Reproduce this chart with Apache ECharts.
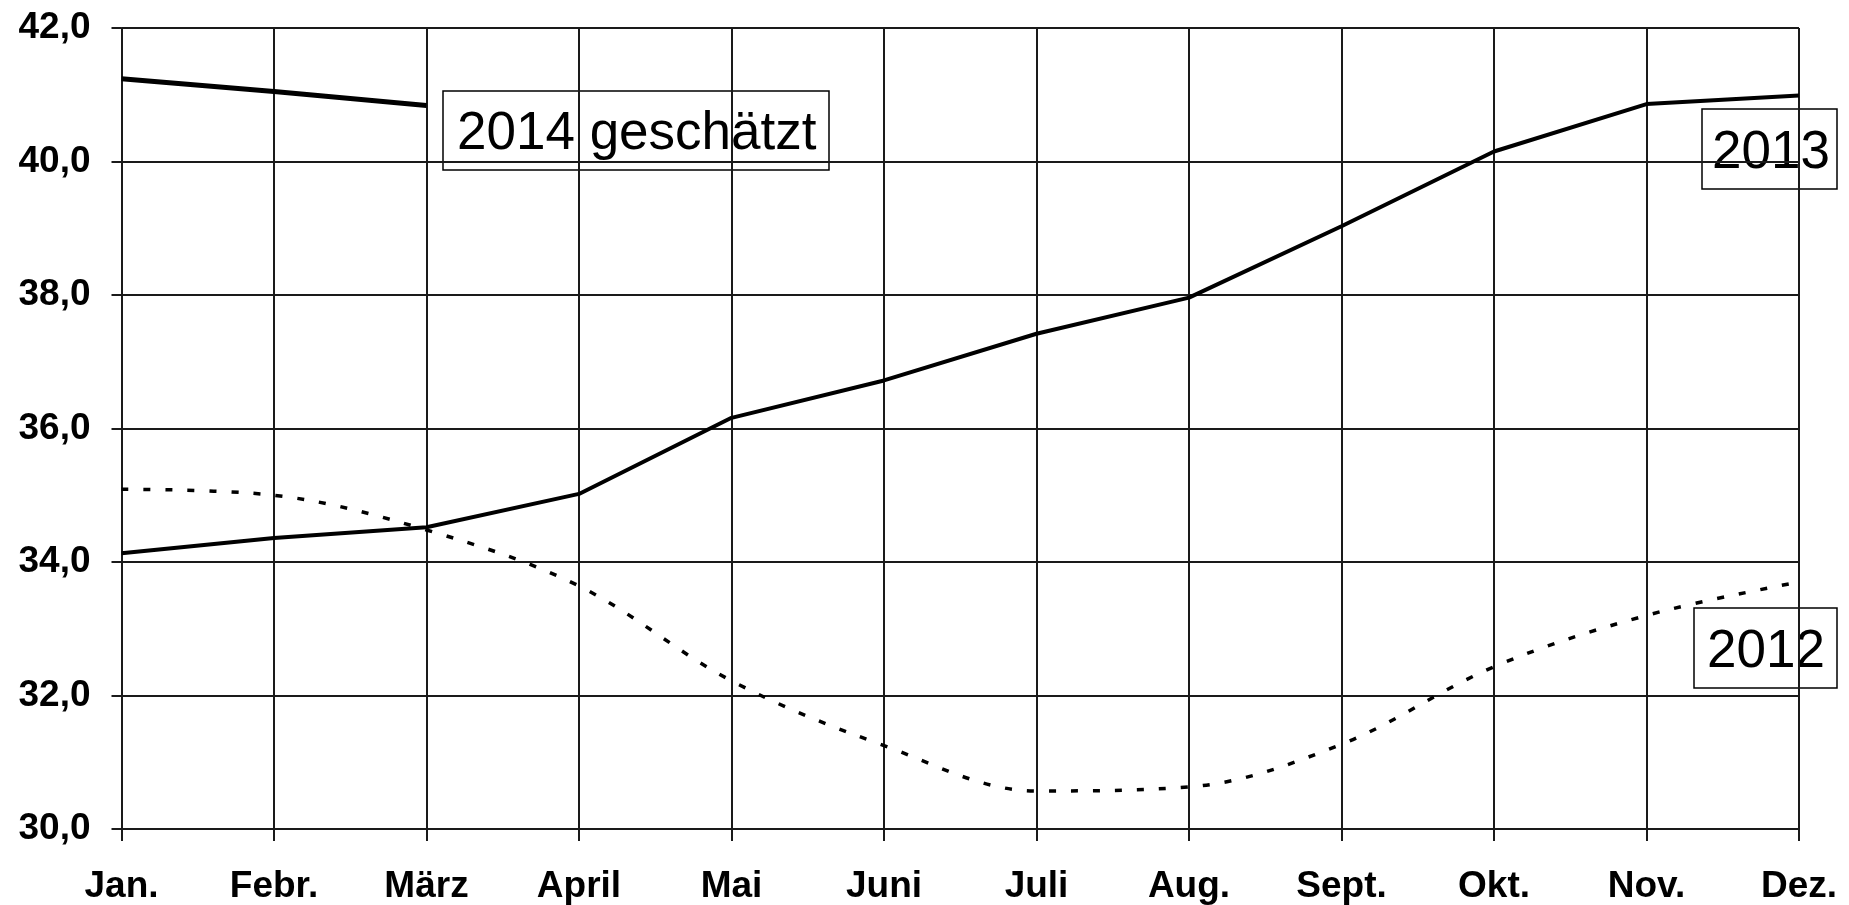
<!DOCTYPE html>
<html>
<head>
<meta charset="utf-8">
<script src="https://cdn.jsdelivr.net/npm/echarts@6/dist/echarts.min.js"></script>
<style>
  html, body { margin: 0; padding: 0; background: #fff; }
  #chart { width: 1849px; height: 905px; }
</style>
</head>
<body>
<div id="chart"></div>
<script>
const months = ['Jan.', 'Febr.', 'März', 'April', 'Mai', 'Juni', 'Juli', 'Aug.', 'Sept.', 'Okt.', 'Nov.', 'Dez.']
const values2012 = [35.09, 35.0, 34.48, 33.64, 32.22, 31.25, 30.57, 30.63, 31.27, 32.43, 33.2, 33.7]
const values2013 = [34.13, 34.36, 34.52, 35.02, 36.16, 36.72, 37.42, 37.96, 39.03, 40.15, 40.86, 40.99]
const values2014 = [41.24, 41.05, 40.84]
const boxLabels = ['2014 geschätzt', '2013', '2012']

const font = 'Arial, "Liberation Sans", sans-serif'

const chart = echarts.init(document.getElementById('chart'))

// Textkästen wie im Original (Position in Pixeln)
const box = (text, x, y, w, h, padLeft) => ({
  type: 'group',
  z: 100,
  children: [
    { type: 'rect', shape: { x: x, y: y, width: w, height: h },
      style: { fill: '#fff', stroke: '#000', lineWidth: 1.5 } },
    { type: 'text', x: x + padLeft, y: y + h / 2 + 4,
      style: { text: text, font: '53px ' + font, fill: '#000', verticalAlign: 'middle' } }
  ]
})

const gridLine = { color: '#1a1a1a', width: 2 }

const option = {
  animation: false,
  backgroundColor: '#fff',
  grid: { left: 121.5, right: 50, top: 28, bottom: 75 },
  xAxis: {
    type: 'category',
    data: months,
    boundaryGap: false,
    axisLine: { lineStyle: gridLine },
    axisTick: { show: true, length: 12, lineStyle: gridLine },
    axisLabel: { color: '#000', fontFamily: font, fontWeight: 'bold', fontSize: 37, margin: 39 },
    splitLine: { show: true, lineStyle: gridLine }
  },
  yAxis: {
    type: 'value',
    min: 30,
    max: 42,
    interval: 2,
    axisLine: { show: true, lineStyle: gridLine },
    axisTick: { show: true, length: 10, lineStyle: gridLine },
    axisLabel: {
      color: '#000', fontFamily: font, fontWeight: 'bold', fontSize: 37, margin: 31,
      formatter: v => v.toFixed(1).replace('.', ',')
    },
    splitLine: { show: true, lineStyle: gridLine }
  },
  series: [
    {
      name: '2012',
      type: 'line',
      data: values2012,
      showSymbol: false,
      smooth: 0.35,
      lineStyle: { color: '#000', width: 3.5, type: [7, 15], cap: 'butt' }
    },
    {
      name: '2013',
      type: 'line',
      data: values2013,
      showSymbol: false,
      lineStyle: { color: '#000', width: 4 }
    },
    {
      name: '2014 geschätzt',
      type: 'line',
      data: values2014,
      showSymbol: false,
      lineStyle: { color: '#000', width: 5 }
    }
  ],
  graphic: [
    box(boxLabels[0], 443, 91, 386, 79, 14),
    box(boxLabels[1], 1702, 109, 135, 80, 10),
    box(boxLabels[2], 1694, 608, 143, 80, 13)
  ]
}

chart.setOption(option)
</script>
</body>
</html>
